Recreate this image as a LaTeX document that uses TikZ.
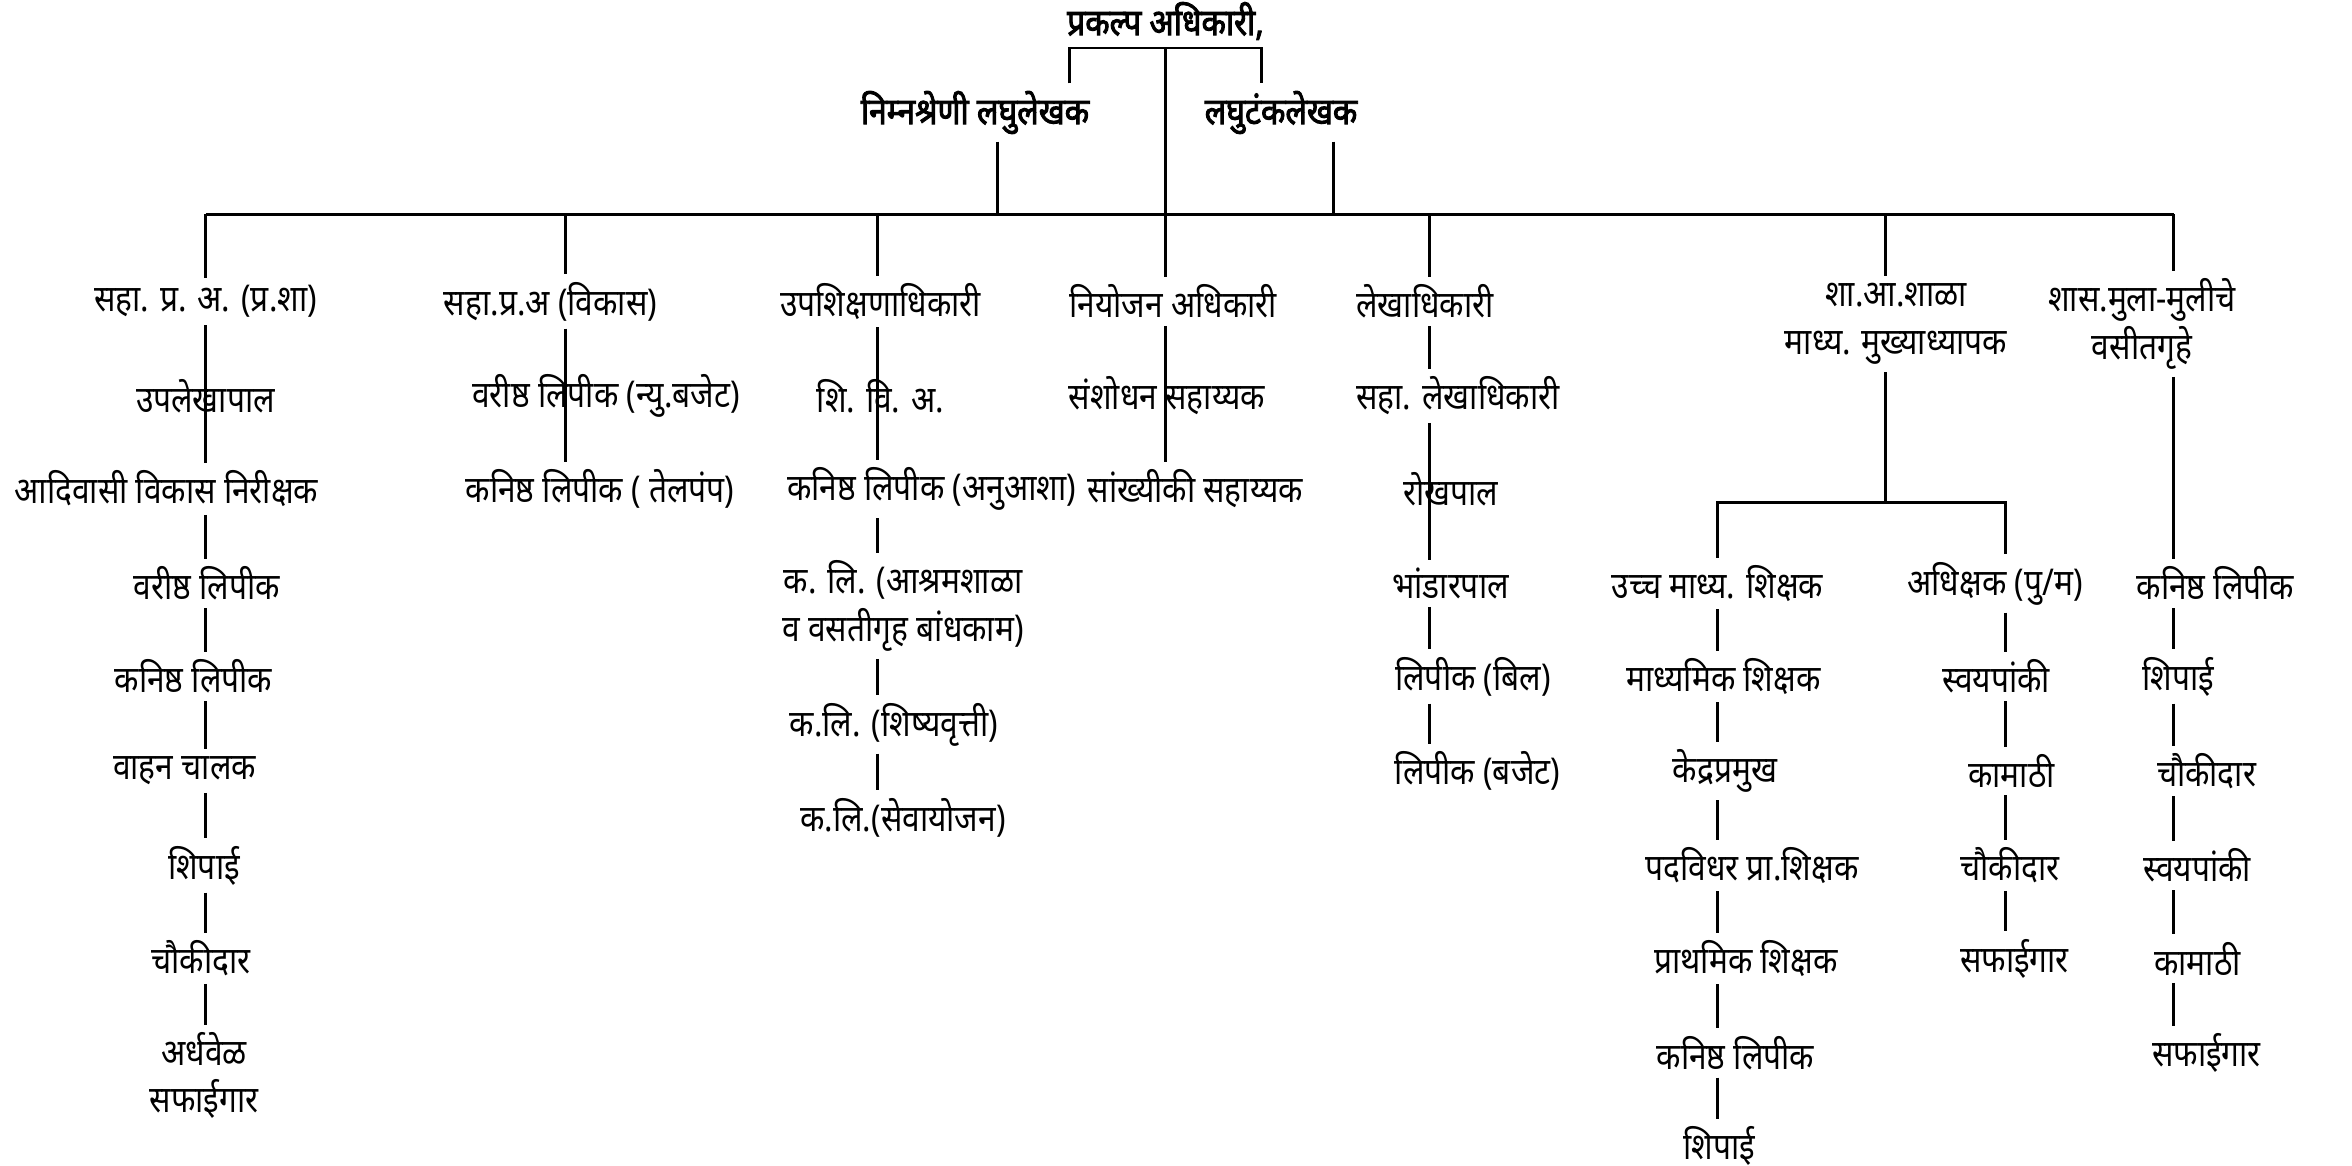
\documentclass[tikz,border=0pt]{standalone}
\usepackage{fontspec}
\setmainfont{Noto Sans}[Script=Devanagari, FakeStretch=0.86]
\newfontfamily\headfont{Noto Sans}[Script=Devanagari, FakeStretch=0.86, FakeBold=2.5]

\tikzset{
  post/.style={inner sep=2pt, align=center, font=\fontsize{10.5}{13.5}\selectfont},
  head/.style={post, font=\headfont\fontsize{10.5}{13.5}\selectfont},
  link/.style={line width=0.6pt},
}

\begin{document}
\begin{tikzpicture}[x=0.015cm,y=-0.015cm]
\useasboundingbox (0,0) rectangle (1568,777);

% column lines
\coordinate (cA) at (137,0);
\coordinate (cB) at (377,0);
\coordinate (cC) at (585,0);
\coordinate (cD) at (777,0);
\coordinate (cE) at (953,0);
\coordinate (cF) at (1257,0);
\coordinate (cFa) at (1145,0);
\coordinate (cFb) at (1337,0);
\coordinate (cG) at (1449,0);
\coordinate (bus) at (777,143);
\coordinate (subbus) at (1257,335);
\coordinate (brL) at (713,32);
\coordinate (brR) at (841,32);
\coordinate (sL) at (665,143);
\coordinate (sR) at (889,143);

% top
\node[head] (po) at (777,14) {प्रकल्प अधिकारी,};
\node[head] (steno) at (650,75) {निम्नश्रेणी लघुलेखक};
\node[head] (typist) at (854,75) {लघुटंकलेखक};

% first level
\node[post] (sahaPS) at (137,201) {सहा. प्र. अ. (प्र.शा)};
\node[post] (sahaV) at (367,201) {सहा.प्र.अ (विकास)};
\node[post] (upshik) at (587,201) {उपशिक्षणाधिकारी};
\node[post] (niyo) at (782,201) {नियोजन अधिकारी};
\node[post] (lekha) at (950,201) {लेखाधिकारी};
\node[post] (mukhya) at (1264,216) {शा.आ.शाळा\\माध्य. मुख्याध्यापक};
\node[post] (vasati) at (1428,216) {शास.मुला-मुलीचे\\वसीतगृहे};

% column A
\node[post] (upalekha) at (137,264) {उपलेखापाल};
\node[post] (adiv) at (111,326) {आदिवासी विकास निरीक्षक};
\node[post] (varA) at (138,389) {वरीष्ठ लिपीक};
\node[post] (kanA) at (129,451) {कनिष्ठ लिपीक};
\node[post] (vahan) at (123,514) {वाहन चालक};
\node[post] (shipaiA) at (136,577) {शिपाई};
\node[post] (chaukiA) at (134,639) {चौकीदार};
\node[post] (ardhvel) at (136,717) {अर्धवेळ\\सफाईगार};

% column B
\node[post] (varB) at (404,264) {वरीष्ठ लिपीक (न्यु.बजेट)};
\node[post] (kanB) at (400,326) {कनिष्ठ लिपीक ( तेलपंप)};

% column C
\node[post] (shiVA) at (587,264) {शि. वि. अ.};
\node[post] (kanC) at (621,326) {कनिष्ठ लिपीक (अनुआशा)};
\node[post] (klAshram) at (602,404) {क. लि. (आश्रमशाळा\\व वसतीगृह बांधकाम)};
\node[post] (klShishya) at (596,483) {क.लि. (शिष्यवृत्ती)};
\node[post] (klSeva) at (602,545) {क.लि.(सेवायोजन)};

% column D
\node[post] (sanshodhan) at (778,264) {संशोधन सहाय्यक};
\node[post] (sankhyiki) at (797,326) {सांख्यीकी सहाय्यक};

% column E
\node[post] (sahaLekha) at (972,264) {सहा. लेखाधिकारी};
\node[post] (rokh) at (967,326) {रोखपाल};
\node[post] (bhandar) at (967,389) {भांडारपाल};
\node[post] (lipikBil) at (982,451) {लिपीक (बिल)};
\node[post] (lipikBudget) at (985,514) {लिपीक (बजेट)};

% column F
\node[post] (uchch) at (1145,389) {उच्च माध्य. शिक्षक};
\node[post] (madhyamik) at (1149,451) {माध्यमिक शिक्षक};
\node[post] (kendra) at (1150,514) {केद्रप्रमुख};
\node[post] (padvidhar) at (1168,577) {पदविधर प्रा.शिक्षक};
\node[post] (prathamik) at (1164,639) {प्राथमिक शिक्षक};
\node[post] (kanF) at (1157,702) {कनिष्ठ लिपीक};
\node[post] (shipaiF) at (1146,764) {शिपाई};
\node[post] (adhikshak) at (1330,389) {अधिक्षक (पु/म)};
\node[post] (swayF) at (1331,451) {स्वयपांकी};
\node[post] (kamathiF) at (1341,514) {कामाठी};
\node[post] (chaukiF) at (1340,577) {चौकीदार};
\node[post] (safaiF) at (1343,639) {सफाईगार};

% column G
\node[post] (kanG) at (1477,389) {कनिष्ठ लिपीक};
\node[post] (shipaiG) at (1452,451) {शिपाई};
\node[post] (chaukiG) at (1471,514) {चौकीदार};
\node[post] (swayG) at (1465,577) {स्वयपांकी};
\node[post] (kamathiG) at (1465,639) {कामाठी};
\node[post] (safaiG) at (1471,702) {सफाईगार};

% top connectors
\draw[link] (steno.north -| brL) -- (brL) -- (brR) -- (typist.north -| brR);
\draw[link] (brL -| po) -- (bus);
\draw[link] (steno.south -| sL) -- (sL);
\draw[link] (typist.south -| sR) -- (sR);
\draw[link] (cA |- bus) -- (cG |- bus);
\foreach \c/\n in {cA/sahaPS, cB/sahaV, cC/upshik, cD/niyo, cE/lekha, cF/mukhya, cG/vasati}
  \draw[link] (\c |- bus) -- (\n.north -| \c);

% chains
\foreach \a/\b in {sahaPS/adiv, adiv/varA, varA/kanA, kanA/vahan, vahan/shipaiA, shipaiA/chaukiA, chaukiA/ardhvel}
  \draw[link] (\a.south -| cA) -- (\b.north -| cA);
\draw[link] (sahaV.south -| cB) -- (kanB.north -| cB);
\foreach \a/\b in {upshik/kanC, kanC/klAshram, klAshram/klShishya, klShishya/klSeva}
  \draw[link] (\a.south -| cC) -- (\b.north -| cC);
\draw[link] (niyo.south -| cD) -- (sankhyiki.north -| cD);
\foreach \a/\b in {lekha/sahaLekha, sahaLekha/bhandar, bhandar/lipikBil, lipikBil/lipikBudget}
  \draw[link] (\a.south -| cE) -- (\b.north -| cE);

% school branch
\draw[link] (mukhya.south -| cF) -- (subbus);
\draw[link] (uchch.north -| cFa) -- (cFa |- subbus) -- (cFb |- subbus) -- (adhikshak.north -| cFb);
\foreach \a/\b in {uchch/madhyamik, madhyamik/kendra, kendra/padvidhar, padvidhar/prathamik, prathamik/kanF, kanF/shipaiF}
  \draw[link] (\a.south -| cFa) -- (\b.north -| cFa);
\foreach \a/\b in {adhikshak/swayF, swayF/kamathiF, kamathiF/chaukiF, chaukiF/safaiF}
  \draw[link] (\a.south -| cFb) -- (\b.north -| cFb);
\draw[link] (vasati.south -| cG) -- (kanG.north -| cG);
\foreach \a/\b in {kanG/shipaiG, shipaiG/chaukiG, chaukiG/swayG, swayG/kamathiG, kamathiG/safaiG}
  \draw[link] (\a.south -| cG) -- (\b.north -| cG);
\end{tikzpicture}
\end{document}
